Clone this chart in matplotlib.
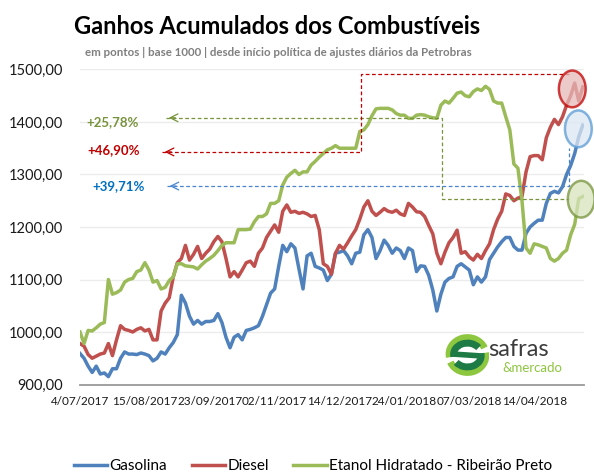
import numpy as np
import matplotlib
matplotlib.use("Agg")
import matplotlib.pyplot as plt
from matplotlib.patches import Ellipse, Arc

plt.rcParams['font.family'] = ['Lato', 'DejaVu Sans']

# pontos (base 1000), um valor por pregão
gasolina = [959, 950, 935, 923, 935, 920, 922, 915, 930, 930,
            950, 962, 958, 958, 957, 960, 958, 955, 945, 950,
            962, 958, 970, 980, 995, 1070, 1055, 1030, 1015, 1022,
            1015, 1020, 1020, 1022, 1035, 1018, 990, 970, 990, 995,
            985, 1003, 1005, 1008, 1012, 1030, 1052, 1074, 1082, 1125,
            1165, 1153, 1168, 1160, 1120, 1082, 1145, 1150, 1125, 1122,
            1118, 1098, 1110, 1150, 1152, 1155, 1145, 1130, 1150, 1152,
            1185, 1195, 1180, 1140, 1155, 1175, 1165, 1150, 1160, 1155,
            1140, 1160, 1155, 1115, 1126, 1125, 1108, 1080, 1040, 1072,
            1095, 1102, 1105, 1125, 1130, 1124, 1118, 1090, 1105, 1095,
            1105, 1138, 1150, 1162, 1172, 1180, 1180, 1163, 1156, 1156,
            1188, 1200, 1207, 1213, 1213, 1245, 1264, 1268, 1265, 1277,
            1300, 1317, 1340, 1372, 1394]
diesel = [978, 973, 957, 950, 954, 958, 960, 978, 955, 985,
          1012, 1005, 1003, 1000, 1005, 1008, 1002, 1005, 985, 985,
          1040, 1055, 1065, 1105, 1132, 1140, 1165, 1137, 1148, 1163,
          1140, 1150, 1158, 1172, 1182, 1172, 1140, 1105, 1115, 1105,
          1118, 1132, 1135, 1125, 1150, 1160, 1180, 1192, 1204, 1190,
          1230, 1242, 1228, 1230, 1226, 1228, 1225, 1220, 1222, 1195,
          1130, 1125, 1110, 1150, 1165, 1158, 1170, 1183, 1195, 1215,
          1238, 1250, 1230, 1222, 1228, 1235, 1230, 1228, 1232, 1225,
          1222, 1245, 1238, 1229, 1228, 1220, 1203, 1187, 1150, 1130,
          1152, 1170, 1180, 1194, 1150, 1153, 1143, 1137, 1148, 1140,
          1155, 1168, 1195, 1215, 1230, 1263, 1260, 1250, 1255, 1258,
          1305, 1334, 1336, 1336, 1328, 1370, 1390, 1405, 1395, 1410,
          1432, 1450, 1474, 1440, 1467]
etanol = [1000, 978, 1003, 1002, 1008, 1015, 1018, 1100, 1072, 1075,
          1080, 1095, 1100, 1102, 1115, 1118, 1132, 1118, 1095, 1098,
          1082, 1085, 1098, 1105, 1130, 1130, 1126, 1125, 1124, 1120,
          1128, 1135, 1140, 1146, 1155, 1165, 1170, 1170, 1170, 1195,
          1195, 1195, 1196, 1210, 1220, 1220, 1225, 1245, 1245, 1250,
          1280, 1295, 1302, 1308, 1300, 1305, 1305, 1318, 1325, 1333,
          1340, 1347, 1350, 1355, 1350, 1350, 1350, 1350, 1350, 1382,
          1385, 1395, 1412, 1425, 1426, 1426, 1426, 1423, 1416, 1413,
          1413, 1407, 1407, 1413, 1414, 1413, 1410, 1408, 1407, 1432,
          1440, 1436, 1445, 1455, 1457, 1450, 1448, 1458, 1463, 1460,
          1468, 1462, 1440, 1436, 1436, 1410, 1385, 1320, 1312, 1250,
          1160, 1150, 1168, 1166, 1163, 1160, 1140, 1135, 1140, 1150,
          1156, 1185, 1205, 1254, 1258]

datas = ["4/07/2017", "15/08/2017", "23/09/2017", "02/11/2017",
         "14/12/2017", "24/01/2018", "07/03/2018", "14/04/2018"]
passo = 16
yticks = [900, 1000, 1100, 1200, 1300, 1400, 1500]
ylabels = ["900,00", "1000,00", "1100,00", "1200,00", "1300,00", "1400,00", "1500,00"]

c_gas = '#4F81BD'
c_die = '#C0504D'
c_eta = '#9BBB59'

fig = plt.figure(figsize=(5.94, 4.74), dpi=100)
ax = fig.add_axes([0.1347, 0.1888, 0.8485, 0.6646])

x = np.arange(len(gasolina))
ax.plot(x, gasolina, color=c_gas, lw=2.5, label='Gasolina', solid_joinstyle='round')
ax.plot(x, diesel, color=c_die, lw=2.5, label='Diesel', solid_joinstyle='round')
ax.plot(x, etanol, color=c_eta, lw=2.5, label='Etanol Hidratado - Ribeirão Preto', solid_joinstyle='round')

ax.set_xlim(0, 124.3)
ax.set_ylim(900, 1500)
ax.set_yticks(yticks)
ax.set_yticklabels(ylabels, fontsize=10.5, color='#1a1a1a')
ax.set_xticks(np.arange(len(datas)) * passo)
ax.set_xticklabels(datas, fontsize=8.5, color='#1a1a1a')
ax.tick_params(axis='y', length=0, pad=12)
ax.tick_params(axis='x', length=0, pad=8)
for s in ['top', 'right', 'left']:
    ax.spines[s].set_visible(False)
ax.spines['bottom'].set_color('#9a9a9a')
ax.spines['bottom'].set_linewidth(1.3)
ax.yaxis.grid(True, color='#ececec', lw=1)
ax.set_axisbelow(True)

# linhas tracejadas de destaque
verde = '#77933C'
verm = '#C00000'
azul = '#4A86D0'
ax.plot([21.2, 89.2, 89.2, 120.5], [1408, 1408, 1253, 1253], ls='--', color=verde, lw=0.9, clip_on=False, dashes=(3, 2))
ax.plot([20.2, 69.2, 69.2, 121.0], [1343, 1343, 1491, 1491], ls='--', color=verm, lw=0.9, clip_on=False, dashes=(3, 2))
ax.plot([21.4, 120.7, 120.7], [1278, 1278, 1350], ls='--', color=azul, lw=0.9, clip_on=False, dashes=(3, 2))
for xt, yt, c in [(21.2, 1408, verde), (20.2, 1343, verm), (21.4, 1278, azul)]:
    ax.annotate('', xy=(xt, yt), xytext=(xt + 3, yt),
                arrowprops=dict(arrowstyle='->', color=c, lw=0.9, mutation_scale=14))

ax.text(8.0, 1400, '+25,78%', color=verde, fontsize=9.5, fontweight='bold', ha='center', va='center')
ax.text(8.3, 1347, '+46,90%', color=verm, fontsize=9.5, fontweight='bold', ha='center', va='center')
ax.text(9.5, 1278, '+39,71%', color='#0070C0', fontsize=9.5, fontweight='bold', ha='center', va='center')

for cx, cy, fc, ec in [(121.4, 1463, '#E6B9B8', '#C00000'),
                       (122.9, 1387, '#DCE6F2', '#5B9BD5'),
                       (123.6, 1253, '#D7E4BD', '#77933C')]:
    ax.add_patch(Ellipse((cx, cy), 6.6, 70, facecolor=fc, edgecolor=ec, lw=1.8,
                         alpha=0.75, clip_on=False, zorder=4))

fig.text(0.467, 1 - 27 / 474, 'Ganhos Acumulados dos Combustíveis', fontsize=17,
         fontweight='bold', ha='center', va='center', color='black')
fig.text(0.469, 1 - 52 / 474, 'em pontos | base 1000 | desde início política de ajustes diários da Petrobras',
         fontsize=8.3, fontweight='bold', ha='center', va='center', color='#7F7F7F')

# logo
lax = fig.add_axes([0.749, 0.2046, 0.0758, 0.0928])
lax.set_xlim(-1.2, 1.2)
lax.set_ylim(-1.2, 1.2)
lax.set_aspect('equal')
lax.axis('off')
lax.add_patch(Arc((0, 0.05), 2.0, 1.8, theta1=20, theta2=190, color='#8DC63F', lw=5))
lax.add_patch(Arc((0, -0.05), 2.0, 1.8, theta1=200, theta2=370, color='#8DC63F', lw=5))
lax.add_patch(Arc((0, 0.05), 1.5, 1.2, theta1=30, theta2=190, color='#1E7B45', lw=5))
lax.add_patch(Arc((0, -0.05), 1.5, 1.2, theta1=210, theta2=370, color='#1E7B45', lw=5))
lax.plot([-0.75, 0.75], [0.05, -0.05], color='#1E7B45', lw=4)
fig.text(0.822, 1 - 350 / 474, 'safras', fontsize=17, color='#3C3C3C', ha='left', va='center')
fig.text(0.846, 1 - 368 / 474, '&mercado', fontsize=9.5, color='#8DC63F', ha='left', va='center')

fig.legend(loc='center', bbox_to_anchor=(0.527, 1 - 466 / 474), ncol=3, frameon=False,
           fontsize=11, handlelength=2.2, columnspacing=1.6, handletextpad=0.15)

fig.savefig('out.png', dpi=100)
